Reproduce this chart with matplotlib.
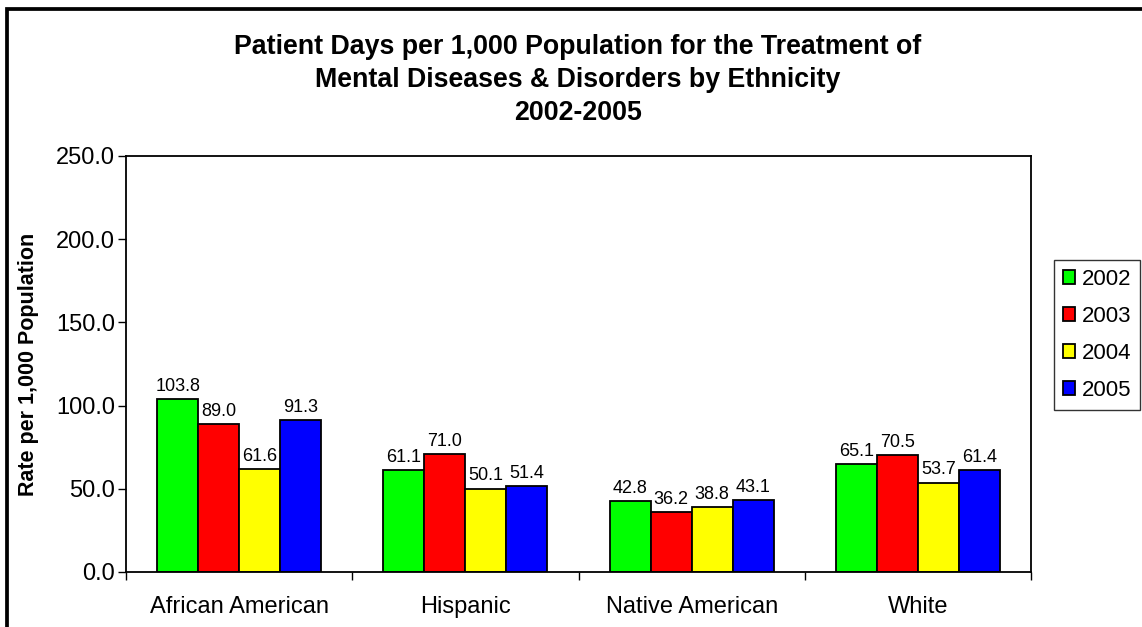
import numpy as np
import matplotlib.pyplot as plt
from matplotlib.patches import Rectangle

plt.rcParams['font.family'] = ['Liberation Sans', 'DejaVu Sans']

categories = ["African American", "Hispanic", "Native American", "White"]
years = ["2002", "2003", "2004", "2005"]
rate_2002 = [103.8, 61.1, 42.8, 65.1]
rate_2003 = [89.0, 71.0, 36.2, 70.5]
rate_2004 = [61.6, 50.1, 38.8, 53.7]
rate_2005 = [91.3, 51.4, 43.1, 61.4]
colors = ["#00ff00", "#ff0000", "#ffff00", "#0000ff"]

series = [rate_2002, rate_2003, rate_2004, rate_2005]

fig = plt.figure(figsize=(11.42, 6.27), dpi=100)
ax = fig.add_axes([126 / 1142, 1 - 572 / 627, 905 / 1142, 416 / 627])

x = np.arange(len(categories))
w = 0.181
for i, (vals, c, yr) in enumerate(zip(series, colors, years)):
    pos = x + (i - 1.5) * w
    bars = ax.bar(pos, vals, width=w, color=c, edgecolor="black", linewidth=1.3, label=yr)
    for b, v in zip(bars, vals):
        ax.text(b.get_x() + b.get_width() / 2, v + 2.5, f"{v:.1f}",
                ha="center", va="bottom", fontsize=13)

ax.set_xlim(-0.5, 3.5)
ax.set_ylim(0, 250)
ax.set_yticks(np.arange(0, 251, 50))
ax.set_yticklabels([f"{t:.1f}" for t in np.arange(0, 251, 50)], fontsize=17)
ax.set_xticks(np.arange(-0.5, 4, 1))
ax.set_xticklabels([])
ax.set_xticks(x, minor=True)
ax.set_xticklabels(categories, minor=True, fontsize=17)
ax.tick_params(axis="x", which="minor", length=0, pad=17)
ax.tick_params(axis="x", which="major", length=6, direction="out", width=1)
ax.tick_params(axis="y", length=6, direction="out", width=1, pad=2)
for s in ax.spines.values():
    s.set_linewidth(1.3)

ax.set_ylabel("Rate per 1,000 Population", fontsize=15.5, fontweight="bold", labelpad=12)

fig.text(578 / 1142, 1 - 80 / 627,
         "Patient Days per 1,000 Population for the Treatment of\n"
         "Mental Diseases & Disorders by Ethnicity\n2002-2005",
         ha="center", va="center", fontsize=19.3, fontweight="bold", linespacing=1.33)

leg = fig.legend(loc="upper left", bbox_to_anchor=(1054 / 1142, 1 - 260 / 627),
                 fontsize=16, frameon=True, fancybox=False, edgecolor="black",
                 handlelength=0.55, handleheight=0.55, handletextpad=0.3,
                 labelspacing=0.72, borderpad=0.4, borderaxespad=0)
leg.get_frame().set_linewidth(1)

# outer chart border (right/bottom are cut off in the original)
fig.patches.append(Rectangle((7 / 1142, -0.1), 1.2, 1.1 - 8.5 / 627,
                             transform=fig.transFigure, fill=False,
                             edgecolor="black", linewidth=2.7))

fig.savefig("out.png", dpi=100)
